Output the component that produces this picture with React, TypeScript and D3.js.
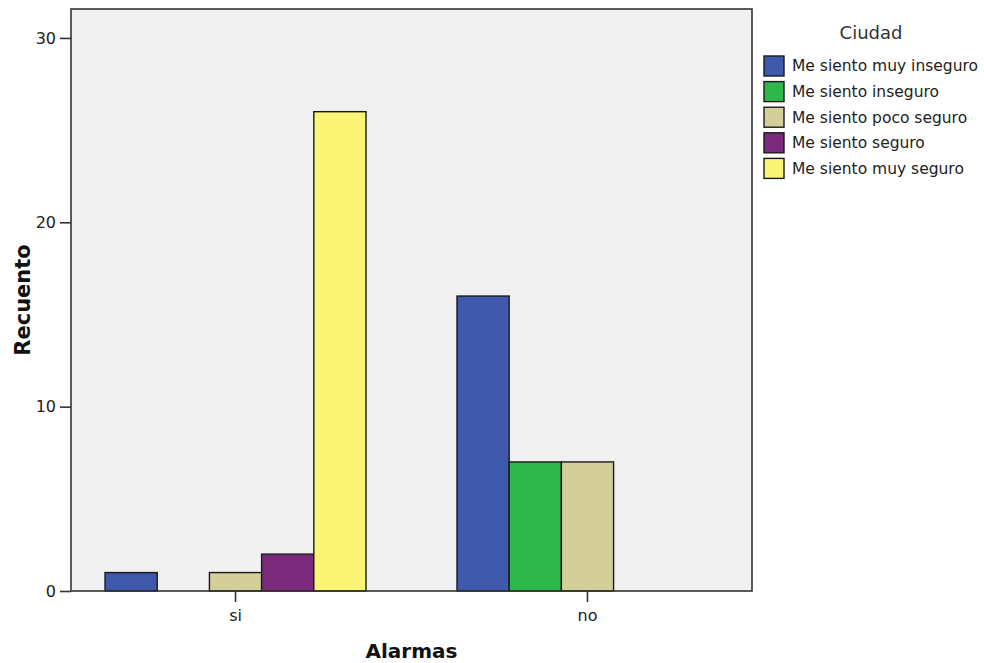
import * as d3 from "d3";
import { useEffect, useRef } from "react";

const categories = ["si", "no"];
const series = [
  "Me siento muy inseguro",
  "Me siento inseguro",
  "Me siento poco seguro",
  "Me siento seguro",
  "Me siento muy seguro",
];
const colors = ["#3E58AC", "#2FB84A", "#D4CF99", "#7B2A7B", "#FAF574"];
const siCounts = [1, 0, 1, 2, 26];
const noCounts = [16, 7, 7, 0, 0];
const yTicks = [0, 10, 20, 30];

const FONT = "'DejaVu Sans', sans-serif";

const App = () => {
  const chartRef = useRef<SVGSVGElement | null>(null);

  useEffect(() => {
    drawChart();
  }, []);

  const drawChart = () => {
    if (!chartRef.current) return;
    d3.select(chartRef.current).selectAll("*").remove();

    const plot = { left: 71, right: 752, top: 9, bottom: 591 };
    const svg = d3.select(chartRef.current);

    const data = categories.flatMap((cat, ci) =>
      series.map((s, si) => ({
        cat,
        series: s,
        idx: si,
        value: (ci === 0 ? siCounts : noCounts)[si],
      }))
    );

    const xScale = d3
      .scaleBand()
      .domain(categories)
      .range([plot.left, plot.right])
      .paddingInner(0.2585)
      .paddingOuter(0.0967);

    const xInner = d3.scaleBand().domain(series).range([0, xScale.bandwidth()]).padding(0);

    const yScale = d3.scaleLinear().domain([0, 31.57]).range([plot.bottom, plot.top]);

    // 배경
    svg
      .append("rect")
      .attr("x", plot.left)
      .attr("y", plot.top)
      .attr("width", plot.right - plot.left)
      .attr("height", plot.bottom - plot.top)
      .attr("fill", "#F0F0F0");

    // 막대
    svg
      .append("g")
      .selectAll("rect")
      .data(data.filter((d) => d.value > 0))
      .join("rect")
      .attr("x", (d) => xScale(d.cat)! + xInner(d.series)!)
      .attr("y", (d) => yScale(d.value))
      .attr("width", xInner.bandwidth())
      .attr("height", (d) => yScale(0) - yScale(d.value))
      .attr("fill", (d) => colors[d.idx])
      .attr("stroke", "#1a1a1a")
      .attr("stroke-width", 1.4);

    // 테두리
    svg
      .append("rect")
      .attr("x", plot.left)
      .attr("y", plot.top)
      .attr("width", plot.right - plot.left)
      .attr("height", plot.bottom - plot.top)
      .attr("fill", "none")
      .attr("stroke", "#333")
      .attr("stroke-width", 1.6);

    // Y축
    const yAxis = svg
      .append("g")
      .attr("transform", `translate(${plot.left},0)`)
      .call(d3.axisLeft(yScale).tickValues(yTicks).tickSize(11).tickSizeOuter(0).tickPadding(4));
    yAxis.select(".domain").remove();
    yAxis.selectAll("line").attr("stroke", "#333").attr("stroke-width", 1.6);
    yAxis.selectAll("text").style("font-family", FONT).style("font-size", "16px").attr("fill", "#222");

    // X축
    const xAxis = svg
      .append("g")
      .attr("transform", `translate(0,${plot.bottom})`)
      .call(d3.axisBottom(xScale).tickSize(11).tickSizeOuter(0).tickPadding(8));
    xAxis.select(".domain").remove();
    xAxis.selectAll("line").attr("stroke", "#333").attr("stroke-width", 1.6);
    xAxis.selectAll("text").style("font-family", FONT).style("font-size", "16px").attr("fill", "#222");

    // 축 제목
    svg
      .append("text")
      .attr("x", (plot.left + plot.right) / 2)
      .attr("y", 658)
      .attr("text-anchor", "middle")
      .style("font-family", FONT)
      .style("font-size", "20px")
      .style("font-weight", "bold")
      .attr("fill", "#111")
      .text("Alarmas");

    svg
      .append("text")
      .attr("transform", `translate(30,${(plot.top + plot.bottom) / 2}) rotate(-90)`)
      .attr("text-anchor", "middle")
      .style("font-family", FONT)
      .style("font-size", "21px")
      .style("font-weight", "bold")
      .attr("fill", "#111")
      .text("Recuento");

    // 범례
    const legend = svg.append("g").attr("transform", "translate(764,0)");
    legend
      .append("text")
      .attr("x", 107)
      .attr("y", 39)
      .attr("text-anchor", "middle")
      .style("font-family", FONT)
      .style("font-size", "18px")
      .attr("fill", "#333")
      .text("Ciudad");

    const rows = legend
      .selectAll("g.row")
      .data(series)
      .join("g")
      .attr("class", "row")
      .attr("transform", (d, i) => `translate(0,${56 + i * 25.6})`);

    rows
      .append("rect")
      .attr("width", 20)
      .attr("height", 20)
      .attr("fill", (d, i) => colors[i])
      .attr("stroke", "#1a1a1a")
      .attr("stroke-width", 1.4);

    rows
      .append("text")
      .attr("x", 28)
      .attr("y", 10)
      .attr("dy", "0.35em")
      .style("font-family", FONT)
      .style("font-size", "15.5px")
      .attr("fill", "#222")
      .text((d) => d);
  };

  return (
    <div style={{ position: "absolute", left: 0, top: 0 }}>
      <svg ref={chartRef} width={984} height={663} style={{ display: "block", background: "#fff" }} />
    </div>
  );
};

export default App;
